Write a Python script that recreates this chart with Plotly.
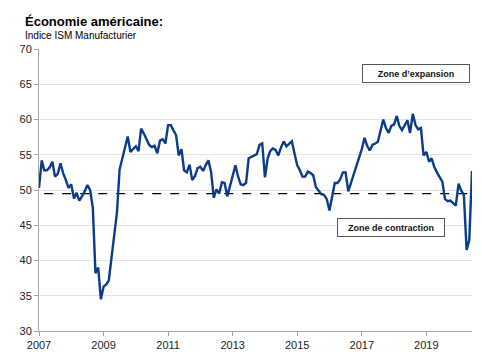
import pandas as pd
import plotly.graph_objects as go

# ISM Manufacturing index, monthly, Jan 2007 - Jun 2020
ism_2007 = [50.3, 54.2, 52.8, 52.8, 53.2, 54.0, 51.9, 52.3, 53.8, 52.4, 51.4, 50.3]
ism_2008 = [50.8, 48.8, 49.6, 48.5, 49.1, 49.8, 50.7, 50.0, 47.5, 38.2, 39.0, 34.5]
ism_2009 = [36.3, 36.6, 37.2, 40.5, 44.2, 46.8, 52.9, 54.6, 55.9, 57.6, 55.4, 55.8]
ism_2010 = [56.2, 55.5, 58.7, 58.0, 57.2, 56.4, 56.1, 56.3, 55.2, 57.0, 57.2, 56.6]
ism_2011 = [59.2, 59.2, 58.5, 57.8, 54.9, 55.8, 52.8, 52.5, 53.6, 51.4, 52.0, 53.1]
ism_2012 = [53.3, 52.7, 53.5, 54.2, 52.6, 48.9, 50.1, 49.5, 51.1, 51.0, 49.1, 50.5]
ism_2013 = [51.7, 53.5, 52.0, 50.8, 50.7, 51.0, 54.5, 54.7, 55.0, 55.1, 56.4, 56.6]
ism_2014 = [51.8, 54.5, 55.5, 55.9, 55.7, 54.9, 56.0, 56.9, 56.2, 56.5, 56.9, 55.2]
ism_2015 = [53.5, 52.8, 51.9, 51.9, 52.6, 52.4, 52.1, 50.4, 49.8, 49.4, 49.3, 48.7]
ism_2016 = [47.1, 49.4, 51.0, 51.0, 51.5, 52.5, 52.5, 49.8, 51.0, 52.0, 53.5, 54.5]
ism_2017 = [55.8, 57.4, 56.3, 55.6, 56.4, 56.6, 56.8, 58.4, 60.0, 58.8, 58.1, 59.1]
ism_2018 = [59.3, 60.5, 59.1, 58.5, 59.2, 59.9, 58.1, 60.8, 59.2, 58.6, 58.8, 54.9]
ism_2019 = [55.4, 54.0, 54.5, 53.3, 52.5, 51.8, 51.2, 48.7, 48.4, 48.5, 48.1, 47.8]
ism_2020 = [50.9, 49.9, 49.3, 41.5, 42.9, 52.7]

values = (ism_2007 + ism_2008 + ism_2009 + ism_2010 + ism_2011 + ism_2012 + ism_2013
          + ism_2014 + ism_2015 + ism_2016 + ism_2017 + ism_2018 + ism_2019 + ism_2020)
dates = pd.date_range("2007-01-01", periods=len(values), freq="MS")

threshold = 49.5
threshold_x = [dates[2], dates[-1]]
threshold_y = [threshold, threshold]

tick_years = ["2007", "2009", "2011", "2013", "2015", "2017", "2019"]
y_ticks = [30, 35, 40, 45, 50, 55, 60, 65, 70]

title = "Économie américaine:"
subtitle = "Indice ISM Manufacturier"
label_expansion = "Zone d’expansion"
label_contraction = "Zone de contraction"

font_family = "Liberation Sans, Arial, sans-serif"

fig = go.Figure()
fig.add_trace(go.Scatter(
    x=threshold_x, y=threshold_y, mode="lines",
    line=dict(color="#000000", width=1.3, dash="dash"),
    hoverinfo="skip", showlegend=False))
fig.add_trace(go.Scatter(
    x=dates, y=values, mode="lines",
    line=dict(color="#0A3C88", width=2.4),
    showlegend=False))

fig.update_layout(
    width=482, height=355,
    margin=dict(l=26, r=18, t=41, b=25),
    paper_bgcolor="white", plot_bgcolor="white",
    font=dict(family=font_family, size=11, color="#222222"),
    xaxis=dict(
        range=[pd.Timestamp("2007-01-01"), pd.Timestamp("2020-06-01")],
        tickvals=[pd.Timestamp(y + "-01-01") for y in tick_years],
        ticktext=tick_years,
        showgrid=False, showline=True, linecolor="#A6A6A6", linewidth=1,
        ticks="outside", ticklen=4, tickcolor="#A6A6A6",
        tickfont=dict(size=11, color="#222222"), zeroline=False),
    yaxis=dict(
        range=[30, 70], tickvals=y_ticks,
        showgrid=True, gridcolor="#E3E3E3", gridwidth=1,
        showline=True, linecolor="#A6A6A6", linewidth=1,
        ticks="outside", ticklen=4, tickcolor="#A6A6A6",
        tickfont=dict(size=11, color="#222222"), zeroline=False),
)

fig.add_annotation(text="<b>" + title + "</b>", xref="paper", yref="paper",
                   x=-26 / 438 + 10 / 438, y=1 + (41 - 13) / 289,
                   xanchor="left", yanchor="middle", showarrow=False,
                   font=dict(size=13, color="#000000"))
fig.add_annotation(text=subtitle, xref="paper", yref="paper",
                   x=-26 / 438 + 10 / 438, y=1 + (41 - 27) / 289,
                   xanchor="left", yanchor="middle", showarrow=False,
                   font=dict(size=10, color="#000000"))

for txt, px, py in [(label_expansion, 407, 66.5), (label_contraction, 382.5, 224)]:
    fig.add_annotation(text="<b>" + txt + "</b>", xref="paper", yref="paper",
                       x=(px - 26) / 438, y=(330 - py) / 289,
                       xanchor="center", yanchor="middle", showarrow=False,
                       width=104, height=15, bgcolor="white",
                       bordercolor="#555555", borderwidth=1, borderpad=1,
                       font=dict(size=9, color="#111111"))

fig.write_html("out.html")
